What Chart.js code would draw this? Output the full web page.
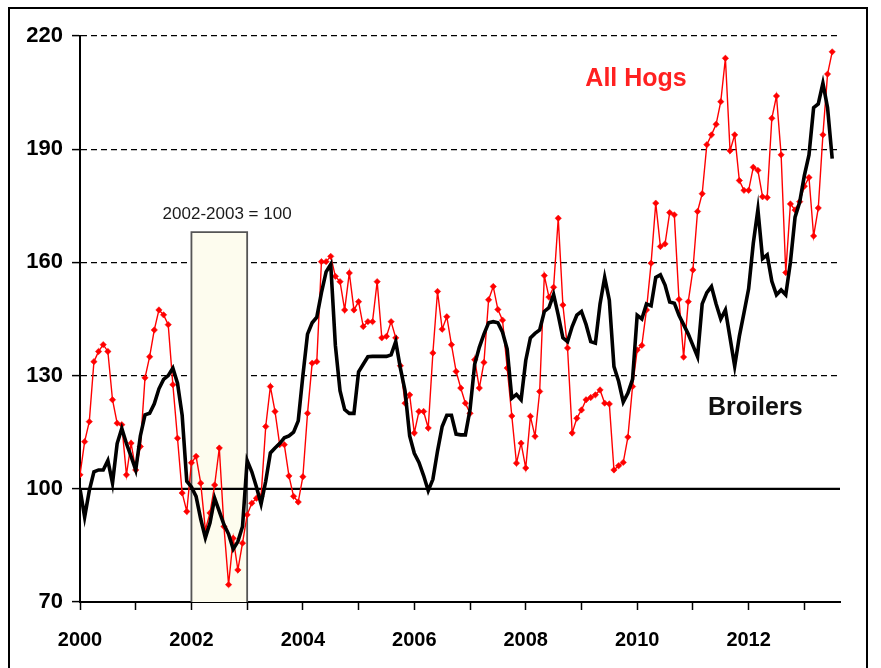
<!DOCTYPE html>
<html><head><meta charset="utf-8">
<script src="https://cdn.jsdelivr.net/npm/chart.js@4"></script>
<style>html,body{margin:0;padding:0;background:#fff}#wrap{position:relative;width:881px;height:668px}</style>
</head><body><div id="wrap"><canvas id="c" width="881" height="668"></canvas></div>
<script>
// ---- data (monthly, Jan 2000 .. Jul 2013), index 2002-2003 = 100 ----
const startYear = 2000;
const hogs = [
 103.7,112.5,117.8,133.7,136.4,138.2,136.4,123.6,117.4,117.0,103.7,112.1,
 105.0,111.2,129.4,135.0,142.1,147.4,146.1,143.5,127.6,113.4,98.9,94.0,
 106.9,108.6,101.5,89.1,93.6,101.0,110.8,90.0,74.6,86.9,78.5,85.6,
 93.1,96.2,97.5,98.0,116.5,127.1,120.5,111.7,111.7,103.4,98.0,96.5,
 103.2,120.0,133.3,133.7,160.2,160.2,161.6,156.3,154.9,147.4,157.2,147.4,
 149.6,143.0,144.3,144.3,154.9,140.0,140.4,144.3,140.0,132.6,122.7,124.9,
 114.8,120.5,120.5,116.1,136.0,152.3,142.3,145.6,138.2,131.1,126.7,122.7,
 120.0,134.2,126.7,133.5,150.1,153.6,147.5,144.7,132.0,119.3,106.8,112.1,
 105.5,119.2,113.9,125.8,156.5,150.8,153.4,171.7,148.7,137.3,114.8,118.7,
 120.9,123.6,124.2,124.9,126.2,122.7,122.5,105.0,106.1,107.0,113.7,127.1,
 136.8,138.0,147.4,159.8,175.7,164.2,164.9,173.2,172.6,150.2,134.9,149.6,
 158.0,173.5,178.2,191.2,193.8,196.6,202.6,214.1,189.6,193.8,181.7,179.1,
 179.1,185.2,184.4,177.4,177.2,198.2,204.1,188.5,157.3,175.5,173.9,176.1,
 180.2,182.5,167.0,174.4,193.8,209.9,215.8
];
const broilers = [
 100.0,92.5,99.5,104.5,105.0,105.0,107.5,101.5,112.0,116.0,112.0,108.6,
 105.0,114.0,119.6,120.0,122.5,126.5,129.0,130.0,132.0,128.0,119.5,102.0,
 100.5,98.0,92.0,87.0,91.0,97.5,94.0,90.5,88.0,84.0,86.0,90.0,
 107.5,104.5,100.5,96.0,102.0,109.5,110.8,112.0,113.5,114.0,115.0,118.0,
 130.0,141.0,144.0,145.5,152.0,157.5,159.5,138.0,126.0,121.0,120.0,120.0,
 131.0,133.0,135.0,135.1,135.1,135.1,135.1,135.5,139.0,132.0,126.0,114.0,
 109.4,107.0,103.5,99.5,102.5,110.0,116.5,119.5,119.5,114.5,114.3,114.3,
 121.0,133.0,137.5,141.0,144.0,144.3,144.0,141.5,137.0,124.0,125.0,123.6,
 134.0,140.0,141.2,142.1,147.0,148.0,151.5,146.0,140.0,139.0,143.0,146.0,
 147.0,143.5,139.0,138.6,149.0,156.0,150.0,132.4,128.5,123.0,125.4,129.0,
 146.0,145.0,149.0,148.5,156.0,156.7,154.0,149.5,149.2,146.0,143.5,141.0,
 138.0,135.0,149.0,152.0,153.6,149.0,145.0,147.4,140.0,132.5,140.4,146.6,
 153.0,165.0,174.0,161.0,162.0,155.0,151.4,152.7,151.4,160.0,172.0,176.0,
 183.0,188.5,201.0,202.0,207.5,201.0,187.5
];
const baseLine = 100;
const boxYears = [2002, 2003];
const boxTop = 168;
const yMin = 70, yMax = 220, yStep = 30;
const xMax = 2013.64;
const xTickLabels = ['2000','2002','2004','2006','2008','2010','2012'];
const seriesNames = ['All Hogs','Broilers'];
const boxLabel = '2002-2003 = 100';

const toPts = arr => arr.map((v,i)=>({x:startYear + i/12, y:v}));
const FONT = '"Liberation Sans", Arial, sans-serif';

const textPlugin = {
  id:'texts',
  afterDatasetsDraw(chart){
    const {ctx, scales:{x,y}} = chart;
    ctx.save();
    ctx.textAlign='center'; ctx.textBaseline='middle';
    ctx.font = '17px ' + FONT; ctx.fillStyle = '#1a1a1a';
    ctx.fillText(boxLabel, x.getPixelForValue(2002.64), y.getPixelForValue(172.8));
    ctx.font = 'bold 25px ' + FONT; ctx.fillStyle = '#FF2020';
    ctx.fillText(seriesNames[0], x.getPixelForValue(2009.98), y.getPixelForValue(208.5));
    ctx.fillStyle = '#111';
    ctx.fillText(seriesNames[1], x.getPixelForValue(2012.12), y.getPixelForValue(121.4));
    ctx.restore();
  },
  beforeDraw(chart){
    const ctx = chart.ctx;
    ctx.save();
    ctx.strokeStyle='#000'; ctx.lineWidth=2;
    ctx.beginPath();
    ctx.moveTo(9,668); ctx.lineTo(9,8); ctx.lineTo(867,8); ctx.lineTo(867,668);
    ctx.stroke();
    ctx.restore();
  }
};

new Chart(document.getElementById('c'), {
  type:'line',
  data:{datasets:[
    {label:seriesNames[1], data:toPts(broilers), borderColor:'#000', borderWidth:3.6, pointRadius:0, tension:0, order:1},
    {label:seriesNames[0], data:toPts(hogs), borderColor:'#FF0000', backgroundColor:'#FF0000', borderWidth:1.4,
     pointStyle:'rectRot', pointRadius:3.2, pointBorderWidth:0.5, tension:0, order:2},
    {label:'base', data:[{x:startYear,y:baseLine},{x:xMax,y:baseLine}], borderColor:'#000', borderWidth:2.2, pointRadius:0, order:3},
    {label:'box', data:[{x:boxYears[0],y:yMin},{x:boxYears[0],y:boxTop},{x:boxYears[1],y:boxTop},{x:boxYears[1],y:yMin}],
     borderColor:'#555', borderWidth:1.8, backgroundColor:'#FDFCEE', fill:'start', pointRadius:0, order:10}
  ]},
  options:{
    responsive:false, devicePixelRatio:1, animation:false,
    layout:{padding:{left:0, top:36, right:41, bottom:0}},
    plugins:{legend:{display:false}, tooltip:{enabled:false}},
    scales:{
      x:{type:'linear', min:startYear, max:xMax,
        afterFit(s){ s.height = 66; },
        grid:{drawOnChartArea:false, drawTicks:true, tickLength:8, tickColor:'#000', tickWidth:1.5},
        border:{color:'#000', width:2},
        ticks:{stepSize:1, includeBounds:false, autoSkip:false, maxRotation:0, minRotation:0, padding:18,
          color:'#000', font:{family:FONT, size:20, weight:'bold'},
          callback:(v)=> xTickLabels.includes(String(v)) ? String(v) : ''}
      },
      y:{min:yMin, max:yMax,
        afterFit(s){ s.width = 80; },
        grid:{drawOnChartArea:true, drawTicks:true, tickLength:8, tickColor:'#000', tickWidth:1.5,
          color:(c)=> (c.tick && (c.tick.value===yMin || c.tick.value===baseLine)) ? 'rgba(0,0,0,0)' : '#000', lineWidth:1.2},
        border:{color:'#000', width:2, dash:[6,4]},
        ticks:{stepSize:yStep, padding:9, color:'#000', font:{family:FONT, size:22, weight:'bold'}}
      }
    }
  },
  plugins:[textPlugin]
});
</script></body></html>
